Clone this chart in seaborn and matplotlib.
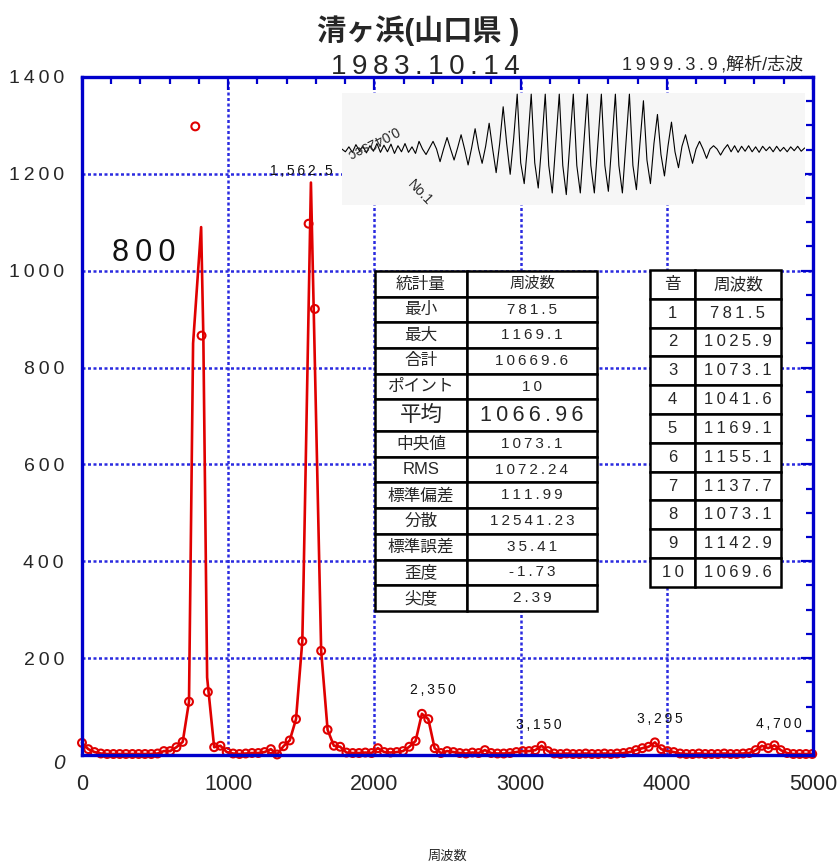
import numpy as np
import pandas as pd
import matplotlib
matplotlib.use('Agg')
import matplotlib.pyplot as plt
from matplotlib.ticker import MultipleLocator, FuncFormatter
import seaborn as sns

# spectrum bins (Hz) and amplitude
freq = [0, 43, 86, 129, 172, 215, 258, 301, 345, 388,
        431, 474, 517, 560, 603, 646, 689, 732, 775, 818,
        861, 904, 947, 990, 1034, 1077, 1120, 1163, 1206, 1249,
        1292, 1335, 1378, 1421, 1464, 1507, 1550, 1593, 1636, 1680,
        1723, 1766, 1809, 1852, 1895, 1938, 1981, 2024, 2067, 2110,
        2153, 2196, 2239, 2282, 2325, 2369, 2412, 2455, 2498, 2541,
        2584, 2627, 2670, 2713, 2756, 2799, 2842, 2885, 2928, 2971,
        3015, 3058, 3101, 3144, 3187, 3230, 3273, 3316, 3359, 3402,
        3445, 3488, 3531, 3574, 3617, 3660, 3704, 3747, 3790, 3833,
        3876, 3919, 3962, 4005, 4048, 4091, 4134, 4177, 4220, 4263,
        4306, 4349, 4393, 4436, 4479, 4522, 4565, 4608, 4651, 4694,
        4737, 4780, 4823, 4866, 4909, 4952, 4995]
amp = [25, 12, 6, 3, 2, 2, 2, 2, 2, 2,
       2, 2, 3, 8, 8, 16, 27, 110, 1298, 866,
       130, 16, 19, 6, 3, 2, 3, 4, 4, 6,
       12, 1, 18, 30, 74, 235, 1097, 921, 215, 52,
       19, 17, 5, 4, 4, 5, 4, 14, 6, 5,
       6, 8, 17, 29, 85, 74, 14, 4, 8, 6,
       4, 3, 5, 4, 10, 4, 3, 3, 4, 6,
       8, 8, 10, 19, 8, 3, 2, 3, 2, 2,
       3, 2, 2, 3, 2, 3, 4, 6, 10, 14,
       17, 26, 12, 8, 6, 3, 2, 2, 3, 2,
       2, 2, 3, 2, 2, 3, 4, 10, 19, 14,
       20, 10, 4, 2, 2, 2, 2]

# line vertices through the two big peaks (line has no markers there)
peak1_freq = [732, 760, 815, 830, 856, 904]
peak1_amp = [110, 850, 1090, 866, 160, 16]
peak2_freq = [1464, 1507, 1515, 1566, 1636]
peak2_amp = [74, 235, 350, 1182, 215]

peak_labels = ['800', '1,562.5', '2,350', '3,150', '3,295', '4,700']
peak_label_x = [420, 1283, 2400, 3124, 3952, 4766]
peak_label_y = [1037, 1205, 134, 62, 74, 64]

stat_names = ['最小', '最大', '合計', 'ポイント', '平均', '中央値', 'RMS',
              '標準偏差', '分散', '標準誤差', '歪度', '尖度']
stat_values = ['781.5', '1169.1', '10669.6', '10', '1066.96', '1073.1',
               '1072.24', '111.99', '12541.23', '35.41', '-1.73', '2.39']

note_no = ['1', '2', '3', '4', '5', '6', '7', '8', '9', '10']
note_freq = ['781.5', '1025.9', '1073.1', '1041.6', '1169.1', '1155.1',
             '1137.7', '1073.1', '1142.9', '1069.6']

# waveform extremes for the small inset (normalised amplitude)
wave = [0.0, -0.05, 0.04, -0.06, 0.08, -0.03, 0.05, -0.07, 0.06, -0.04,
        0.1, -0.06, 0.07, -0.05, 0.09, -0.08, 0.06, -0.05, 0.1, -0.06,
        0.04, -0.08, 0.14,
        0.0, -0.1, 0.02, 0.14, 0.0, -0.23, 0.0, 0.21, 0.0, -0.2, 0.02,
        0.26, 0.0, -0.29, 0.02, 0.37, 0.0, -0.26, 0.05, 0.47, 0.0, -0.43,
        0.1, 0.77, 0.1, -0.46, 0.2,
        1.0, -0.25, -0.63, 0.1, 1.0, -0.25, -0.71, 0.1, 1.0, -0.3, -0.8, 0.1,
        1.0, -0.3, -0.83, 0.1, 1.0, -0.3, -0.8, 0.1, 1.0, -0.3, -0.8, 0.1,
        1.0, -0.3, -0.77, 0.1, 1.0, -0.3, -0.8, 0.1, 1.0, -0.3, -0.74, 0.1,
        0.88, -0.2, -0.63, 0.1, 0.63, -0.1, -0.49, 0.05, 0.49, -0.05, -0.34,
        0.05, 0.26, 0.0, -0.26, 0.0, 0.14, 0.0, -0.17, 0.0, 0.06, 0.0, -0.11,
        0.0,
        0.08, -0.05, 0.06, -0.06, 0.05, -0.04, 0.06, -0.05, 0.04, -0.06,
        0.05, -0.03, 0.04, -0.05, 0.05, -0.04, 0.03, -0.05, 0.04, -0.03,
        0.05, -0.04, 0.02]

BLUE = '#0000cc'
GRID = '#2a2ae0'
RED = '#e00000'

sns.set_theme(style='white')
plt.rcParams['font.family'] = ['Liberation Sans', 'DejaVu Sans', 'Noto Sans CJK JP']


def spaced(s):
    # mimic the wide letter spacing of the original
    return '\u2009'.join(s)


markers = pd.DataFrame({'freq': freq, 'amp': amp})
keep = ~(markers['freq'].between(732, 904) | markers['freq'].between(1464, 1636))
line = pd.concat([markers[keep],
                  pd.DataFrame({'freq': peak1_freq, 'amp': peak1_amp}),
                  pd.DataFrame({'freq': peak2_freq, 'amp': peak2_amp})])
line = line.sort_values('freq').reset_index(drop=True)

fig = plt.figure(figsize=(8.4, 8.64), dpi=100)
ax = fig.add_axes([0.0976, 0.1262, 0.8702, 0.7847])

sns.lineplot(data=line, x='freq', y='amp', color=RED, lw=1.9, estimator=None,
             sort=False, ax=ax, zorder=3, clip_on=False)
sns.scatterplot(data=markers, x='freq', y='amp', marker='o', s=32,
                facecolor='none', edgecolor=RED, linewidth=1.5, ax=ax,
                zorder=4, clip_on=False)

ax.set_xlim(0, 5000)
ax.set_ylim(0, 1400)
ax.set_xlabel('')
ax.set_ylabel('')
ax.xaxis.set_major_locator(MultipleLocator(1000))
ax.xaxis.set_minor_locator(MultipleLocator(200))
ax.yaxis.set_major_locator(MultipleLocator(200))
ax.yaxis.set_minor_locator(MultipleLocator(50))
ax.yaxis.set_major_formatter(FuncFormatter(lambda v, p: '' if v == 0 else spaced(f'{int(v)}')))
ax.tick_params(which='both', direction='in', top=True, right=True,
               color=BLUE, width=1.6)
ax.tick_params(which='major', length=9)
ax.tick_params(which='minor', length=5)
ax.tick_params(axis='x', labelsize=15.5, pad=14)
ax.tick_params(axis='y', labelsize=14, pad=13)
ax.set_axisbelow(True)
ax.grid(which='major', color=GRID, linestyle=(0, (1.2, 1.0)), linewidth=1.8)
for s in ax.spines.values():
    s.set_color(BLUE)
    s.set_linewidth(2.4)
    s.set_zorder(5)

ax.text(-0.032, -0.012, '0', transform=ax.transAxes, ha='center', va='center',
        fontsize=15, style='italic')

# peak labels
sizes = [22, 10, 10, 10, 10, 10]
for lab, x, y, fs in zip(peak_labels, peak_label_x, peak_label_y, sizes):
    ha = 'left' if lab == '1,562.5' else 'center'
    ax.text(x, y, spaced(lab), ha=ha, va='center', fontsize=fs, color='#111111')

# statistics table
t1 = ax.table(cellText=[[n, spaced(v)] for n, v in zip(stat_names, stat_values)],
              colLabels=['統計量', '周波数'], cellLoc='center',
              colWidths=[0.414, 0.586], bbox=[0.4008, 0.2124, 0.3037, 0.5015])
t1.auto_set_font_size(False)
t1.set_fontsize(11)
t1.set_zorder(6)
for (r, c), cell in t1.get_celld().items():
    cell.set_linewidth(1.8)
    cell.set_edgecolor('black')
    cell.set_height(0.032 if r == 5 else 0.026)
    if r == 5:
        cell.get_text().set_fontsize(15.5)
    elif c == 0:
        cell.get_text().set_fontsize(12)

# per-note table
t2 = ax.table(cellText=[[spaced(n), spaced(v)] for n, v in zip(note_no, note_freq)],
              colLabels=['音', '周波数'], cellLoc='center',
              colWidths=[0.344, 0.656], bbox=[0.777, 0.2478, 0.1792, 0.4676])
t2.auto_set_font_size(False)
t2.set_fontsize(12)
t2.set_zorder(6)
for (r, c), cell in t2.get_celld().items():
    cell.set_linewidth(1.8)
    cell.set_edgecolor('black')

# waveform inset
ins = fig.add_axes([0.407, 0.7627, 0.551, 0.1296])
ins.set_facecolor('#f6f6f6')
sns.lineplot(x=np.arange(len(wave)), y=wave, color='black', lw=0.8, ax=ins)
ins.set_xlim(0, len(wave) - 1)
ins.set_ylim(-1.02, 1.02)
ins.set_xticks([])
ins.set_yticks([])
for s in ins.spines.values():
    s.set_visible(False)

fig.text(0.443, 0.836, '0.042sec', rotation=208, rotation_mode='anchor',
         ha='center', va='center', fontsize=10)
fig.text(0.5, 0.777, 'No.1', rotation=-46, rotation_mode='anchor',
         ha='center', va='center', fontsize=10)

fig.text(0.498, 1 - 31 / 864, '清ヶ浜(山口県 )', ha='center', va='center',
         fontsize=21, weight='bold')
fig.text(0.506, 1 - 67 / 864, spaced('1983.10.14'), ha='center', va='center',
         fontsize=20)
fig.text(0.956, 1 - 65 / 864, spaced('1999.3.9,') + '解析/志波', ha='right',
         va='center', fontsize=13)
fig.text(447 / 840, 1 - 857 / 864, '周波数', ha='center', va='center', fontsize=9.5)

fig.savefig('out.png', dpi=100)
